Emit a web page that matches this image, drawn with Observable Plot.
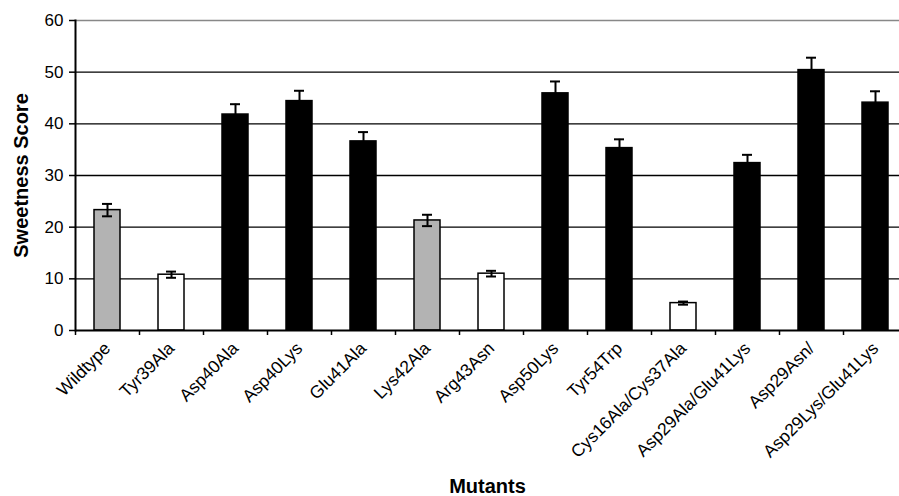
<!DOCTYPE html>
<html>
<head>
<meta charset="utf-8">
<script src="https://cdn.jsdelivr.net/npm/d3@7"></script>
<script src="https://cdn.jsdelivr.net/npm/@observablehq/plot@0.6"></script>
<style>
  html, body { margin: 0; padding: 0; background: #fff; overflow: hidden; }
  #chart { width: 899px; height: 496px; }
</style>
</head>
<body>
<div id="chart"></div>
<script>
const mutants = ["Wildtype", "Tyr39Ala", "Asp40Ala", "Asp40Lys", "Glu41Ala", "Lys42Ala", "Arg43Asn", "Asp50Lys", "Tyr54Trp", "Cys16Ala/Cys37Ala", "Asp29Ala/Glu41Lys", "Asp29Asn/", "Asp29Lys/Glu41Lys"];
const scores = [23.3, 10.8, 41.8, 44.4, 36.6, 21.3, 11.0, 45.9, 35.3, 5.3, 32.4, 50.4, 44.1];
const errors = [1.2, 0.6, 2.0, 2.0, 1.8, 1.1, 0.55, 2.3, 1.7, 0.3, 1.6, 2.4, 2.2];
const groups = ["gray", "white", "black", "black", "black", "gray", "white", "black", "black", "white", "black", "black", "black"];
const yTicks = [0, 10, 20, 30, 40, 50, 60];

const data = mutants.map((m, i) => ({mutant: m, score: scores[i], err: errors[i], group: groups[i]}));
const fills = {gray: "#b3b3b3", white: "#ffffff", black: "#000000"};

const plot = Plot.plot({
  width: 899,
  height: 496,
  marginLeft: 75,
  marginRight: 0,
  marginTop: 20,
  marginBottom: 166,
  style: {fontFamily: "'Liberation Sans', Arial, sans-serif", color: "#000", background: "#fff"},
  x: {domain: mutants, range: [75, 907], padding: 0},
  y: {domain: [0, 60]},
  marks: [
    Plot.ruleY(yTicks.filter(t => t > 0 && t < 60), {y: d => d, stroke: "#000", strokeWidth: 1.4}),
    Plot.ruleY([60], {stroke: "#888", strokeWidth: 1.4}),
    Plot.barY(data, {x: "mutant", y: "score", fill: d => fills[d.group], stroke: "#000", strokeWidth: 1.5, insetLeft: 19, insetRight: 19}),
    Plot.ruleX(data, {x: "mutant", y1: d => d.score - d.err, y2: d => d.score + d.err, stroke: "#000", strokeWidth: 2}),
    Plot.tickY(data, {x: "mutant", y: d => d.score + d.err, stroke: "#000", strokeWidth: 2, insetLeft: 27, insetRight: 27}),
    Plot.tickY(data, {x: "mutant", y: d => d.score - d.err, stroke: "#000", strokeWidth: 2, insetLeft: 27, insetRight: 27}),
    Plot.axisX({tickSize: 5, dx: -32, text: null, strokeWidth: 1.5, label: null}),
    Plot.frame({anchor: "left", stroke: "#000", strokeWidth: 2}),
    Plot.ruleY([0], {stroke: "#000", strokeWidth: 2}),
    Plot.axisY({ticks: yTicks, tickSize: 6, tickPadding: 6, label: "Sweetness Score", labelAnchor: "center", labelOffset: 62, labelArrow: "none", strokeWidth: 1.5}),
    Plot.axisX({tickSize: 0, tickPadding: 15, tickRotate: -45, label: "Mutants", labelAnchor: "center", labelOffset: 162, labelArrow: "none"})
  ]
});

document.getElementById("chart").appendChild(plot);
// font sizes
plot.querySelectorAll("g[aria-label='y-axis tick label'] text").forEach(t => t.style.fontSize = "17px");
plot.querySelectorAll("g[aria-label='x-axis tick label'] text").forEach(t => t.style.fontSize = "17.5px");
plot.querySelectorAll("g[aria-label='y-axis label'] text, g[aria-label='x-axis label'] text").forEach(t => {
  t.style.fontWeight = "bold";
  t.style.fontSize = "20px";
});
</script>
</body>
</html>
